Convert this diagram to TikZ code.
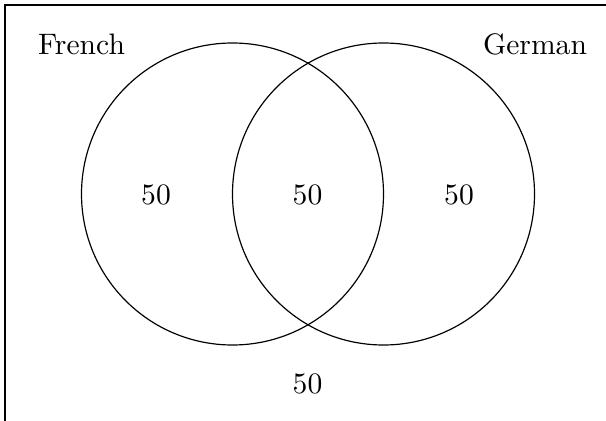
\documentclass[tikz,border=0pt]{standalone}
\begin{document}
\begin{tikzpicture}[x=0.3378pt,y=-0.3378pt,
  setcircle/.style={draw,line width=0.4pt,circle,minimum size=302*0.3378pt,inner sep=0pt},
  lbl/.style={anchor=base,inner sep=0pt}]
\useasboundingbox (0,0) rectangle (606,421);
\coordinate (tr) at (606,5);
\coordinate (tl) at (5,5);
\coordinate (bl) at (5,421);
\draw[line width=0.4pt] (tr) -- (tl) -- (bl);
\node[setcircle] (french) at (232.5,194) {};
\node[setcircle] (german) at (383.5,194) {};
\node[lbl] (fl) at (81.5,55) {French};
\node[lbl] (gl) at (535,55) {German};
\node[lbl] (a) at (156,205) {50};
\node[lbl] (b) at (307.5,205) {50};
\node[lbl] (c) at (459,205) {50};
\node[lbl] (d) at (307.5,393) {50};
\end{tikzpicture}
\end{document}
